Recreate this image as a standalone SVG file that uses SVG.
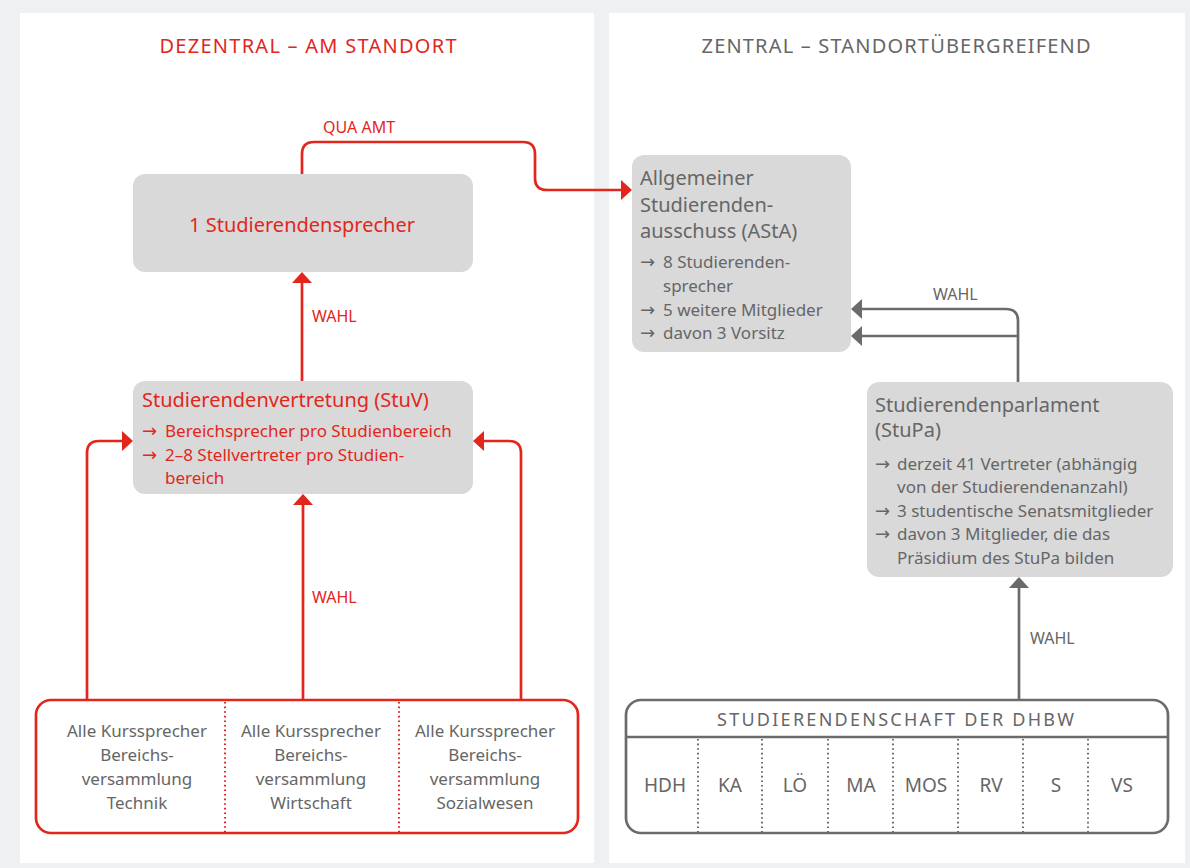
<svg xmlns="http://www.w3.org/2000/svg" width="1190" height="868" viewBox="0 0 1190 868">
  <style>
    text { font-family: "Noto Sans", "Open Sans", sans-serif; }
    .red { fill: #e2261c; }
    .grey { fill: #666666; }
    .title { font-size: 20px; }
    .head { font-size: 20px; }
    .item { font-size: 17px; }
    text.bul { font-family: "DejaVu Sans", sans-serif; font-size: 18px; }
    .lbl { font-size: 16px; }
    .box { fill: #d9d9d9; }
    .lnR { fill: none; stroke: #e2261c; stroke-width: 2.7; }
    .lnG { fill: none; stroke: #6b6b6b; stroke-width: 2.7; }
    .cell { font-size: 17px; text-anchor: middle; }
    .campus { font-size: 19px; text-anchor: middle; }
  </style>
  <defs>
    <marker id="arrR" markerUnits="userSpaceOnUse" markerWidth="12" markerHeight="20" viewBox="0 0 11 20" refX="1" refY="10" orient="auto">
      <path d="M0,0 L11,10 L0,20 z" fill="#e2261c"/>
    </marker>
    <marker id="arrG" markerUnits="userSpaceOnUse" markerWidth="12" markerHeight="20" viewBox="0 0 11 20" refX="1" refY="10" orient="auto">
      <path d="M0,0 L11,10 L0,20 z" fill="#6b6b6b"/>
    </marker>
  </defs>

  <!-- page background and the two panels -->
  <rect x="0" y="0" width="1190" height="868" fill="#eff0f2"/>
  <rect x="20" y="13" width="574" height="850" fill="#ffffff"/>
  <rect x="609" y="13" width="576" height="850" fill="#ffffff"/>

  <text class="red title" x="308" y="53" text-anchor="middle" textLength="297" lengthAdjust="spacing">DEZENTRAL – AM STANDORT</text>
  <text class="grey title" x="896" y="53" text-anchor="middle" textLength="389" lengthAdjust="spacing">ZENTRAL – STANDORTÜBERGREIFEND</text>

  <!-- connectors -->
  <g id="connectors">
    <path class="lnR" d="M302,174 V154 Q302,142 314,142 H523 Q535,142 535,154 V178 Q535,190 547,190 H622" marker-end="url(#arrR)"/>
    <text class="red lbl" x="323" y="133">QUA AMT</text>
    <path class="lnR" d="M302,381 V282" marker-end="url(#arrR)"/>
    <text class="red lbl" x="312" y="322">WAHL</text>
    <path class="lnR" d="M303,699 V504" marker-end="url(#arrR)"/>
    <text class="red lbl" x="312" y="603">WAHL</text>
    <path class="lnR" d="M87,699 V453 Q87,441 99,441 H123" marker-end="url(#arrR)"/>
    <path class="lnR" d="M521,699 V453 Q521,441 509,441 H483" marker-end="url(#arrR)"/>

    <path class="lnG" d="M1018,382 V321 Q1018,309 1006,309 H861" marker-end="url(#arrG)"/>
    <path class="lnG" d="M1018,336 H861" marker-end="url(#arrG)"/>
    <text class="grey lbl" x="933" y="300">WAHL</text>
    <path class="lnG" d="M1019,699 V587" marker-end="url(#arrG)"/>
    <text class="grey lbl" x="1030" y="644">WAHL</text>
  </g>

  <g id="studierendensprecher">
    <rect class="box" x="133" y="174" width="340" height="98" rx="12"/>
    <text class="red" x="302" y="232" font-size="20" text-anchor="middle">1 Studierendensprecher</text>
  </g>

  <g id="stuv">
    <rect class="box" x="133" y="381" width="340" height="113" rx="12"/>
    <text class="red head" x="142" y="407">Studierendenvertretung (StuV)</text>
    <text class="red bul" x="142" y="437">→</text>
    <text class="red item" x="165" y="437">Bereichsprecher pro Studienbereich</text>
    <text class="red bul" x="142" y="461">→</text>
    <text class="red item" x="165" y="461">2–8 Stellvertreter pro Studien-</text>
    <text class="red item" x="165" y="484">bereich</text>
  </g>

  <g id="asta">
    <rect class="box" x="632" y="155" width="219" height="197" rx="12"/>
    <text class="grey head" x="640" y="185">Allgemeiner</text>
    <text class="grey head" x="640" y="211.5">Studierenden-</text>
    <text class="grey head" x="640" y="238">ausschuss (AStA)</text>
    <text class="grey bul" x="640" y="268">→</text>
    <text class="grey item" x="663" y="268">8 Studierenden-</text>
    <text class="grey item" x="663" y="292">sprecher</text>
    <text class="grey bul" x="640" y="315.5">→</text>
    <text class="grey item" x="663" y="315.5">5 weitere Mitglieder</text>
    <text class="grey bul" x="640" y="339">→</text>
    <text class="grey item" x="663" y="339">davon 3 Vorsitz</text>
  </g>

  <g id="stupa">
    <rect class="box" x="867" y="382" width="306" height="195" rx="12"/>
    <text class="grey head" x="875" y="412">Studierendenparlament</text>
    <text class="grey head" x="875" y="437">(StuPa)</text>
    <text class="grey bul" x="875" y="470">→</text>
    <text class="grey item" x="897" y="470">derzeit 41 Vertreter (abhängig</text>
    <text class="grey item" x="897" y="493">von der Studierendenanzahl)</text>
    <text class="grey bul" x="875" y="516.5">→</text>
    <text class="grey item" x="897" y="516.5">3 studentische Senatsmitglieder</text>
    <text class="grey bul" x="875" y="540">→</text>
    <text class="grey item" x="897" y="540">davon 3 Mitglieder, die das</text>
    <text class="grey item" x="897" y="563.5">Präsidium des StuPa bilden</text>
  </g>

  <g id="bereichsversammlungen">
    <rect x="36" y="700" width="542" height="133" rx="15" fill="#ffffff" stroke="#e2261c" stroke-width="2.7"/>
    <path d="M225,702 V832 M399,702 V832" stroke="#e2261c" stroke-width="2" stroke-dasharray="1.6 3" fill="none"/>
    <text class="grey cell" x="137" y="737">Alle Kurssprecher</text>
    <text class="grey cell" x="137" y="761">Bereichs-</text>
    <text class="grey cell" x="137" y="785">versammlung</text>
    <text class="grey cell" x="137" y="809">Technik</text>
    <text class="grey cell" x="311" y="737">Alle Kurssprecher</text>
    <text class="grey cell" x="311" y="761">Bereichs-</text>
    <text class="grey cell" x="311" y="785">versammlung</text>
    <text class="grey cell" x="311" y="809">Wirtschaft</text>
    <text class="grey cell" x="485" y="737">Alle Kurssprecher</text>
    <text class="grey cell" x="485" y="761">Bereichs-</text>
    <text class="grey cell" x="485" y="785">versammlung</text>
    <text class="grey cell" x="485" y="809">Sozialwesen</text>
  </g>

  <g id="studierendenschaft">
    <rect x="626" y="700" width="542" height="133" rx="15" fill="#ffffff" stroke="#6b6b6b" stroke-width="2.7"/>
    <path d="M626,737 H1168" stroke="#6b6b6b" stroke-width="2.7"/>
    <text class="grey" x="895.5" y="726" font-size="18" text-anchor="middle" textLength="357" lengthAdjust="spacing">STUDIERENDENSCHAFT DER DHBW</text>
    <path d="M698,739 V832 M762,739 V832 M828,739 V832 M893,739 V832 M958,739 V832 M1023,739 V832 M1088,739 V832" stroke="#6b6b6b" stroke-width="2" stroke-dasharray="1.6 3" fill="none"/>
    <text class="grey campus" x="665" y="792" font-size="17">HDH</text>
    <text class="grey campus" x="730" y="792">KA</text>
    <text class="grey campus" x="795" y="792">LÖ</text>
    <text class="grey campus" x="861" y="792">MA</text>
    <text class="grey campus" x="926" y="792">MOS</text>
    <text class="grey campus" x="991" y="792">RV</text>
    <text class="grey campus" x="1056" y="792">S</text>
    <text class="grey campus" x="1122" y="792">VS</text>
  </g>
</svg>
